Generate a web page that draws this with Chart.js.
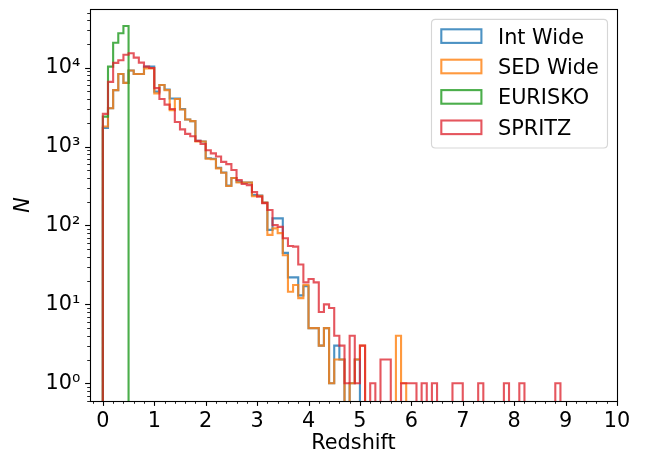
<!DOCTYPE html>
<html>
<head>
<meta charset="utf-8">
<script src="https://cdn.jsdelivr.net/npm/chart.js@4.4.0/dist/chart.umd.min.js"></script>
<style>
  html, body { margin: 0; padding: 0; background: #ffffff; }
  #wrap { width: 651px; height: 460px; }
</style>
</head>
<body>
<div id="wrap"><canvas id="chart" width="651" height="460"></canvas></div>
<script>
// Galaxy counts per redshift bin (bins 0.1 wide, starting at z = 0)
const BIN_START = 0;
const BIN_WIDTH = 0.1;

const intWide = [
  1720, 3060, 5200, 8300, 6420, 9200, 8300, 8300, 10300, 10300,
  4970, 6040, 5300, 4060, 4050, 2980, 2200, 2100, 1180, 1160,
  710, 700, 540, 470, 320, 400, 360, 350, 350, 243,
  240, 195, 88, 123, 123, 45, 22, 22, 13, 17,
  5, 5, 3, 5, 1, 3, 2, 0, 1, 2
];
const sedWide = [
  1800, 3060, 5200, 8300, 6420, 9200, 8300, 8300, 9800, 9800,
  4730, 6040, 5200, 2900, 4000, 2950, 2200, 2100, 1160, 1160,
  700, 690, 530, 467, 317, 400, 350, 350, 350, 235,
  237, 195, 76, 92, 80, 42, 14.5, 17.6, 12, 17.6,
  5, 5, 3, 5, 1, 2, 2, 0, 1, 2,
  3, 0, 0, 0, 0, 0, 0, 4, 1
];
const eurisko = [2400, 10300, 20700, 27300, 33800];
const spritz = [
  2600, 6600, 11500, 12400, 14600, 15200, 13400, 11600, 10300, 9900,
  5500, 4000, 3400, 3000, 2050, 1650, 1450, 1350, 1180, 1080,
  900, 820, 750, 640, 600, 505, 377, 335, 325, 265,
  232, 192, 157, 101, 96, 69, 55, 54, 32, 19,
  21, 19, 8, 10, 9, 4, 3, 1, 4, 1,
  3, 0, 1, 0, 2, 2, 0, 0, 1, 1,
  1, 0, 1, 0, 1, 0, 0, 0, 1, 1,
  0, 0, 0, 1, 0, 0, 0, 0, 1, 0,
  0, 1, 0, 0, 0, 0, 0, 0, 1
];

const seriesNames = ['Int Wide', 'SED Wide', 'EURISKO', 'SPRITZ'];
const seriesCounts = [intWide, sedWide, eurisko, spritz];
const seriesColors = [
  'rgba(31,119,180,0.8)',
  'rgba(255,127,14,0.8)',
  'rgba(44,160,44,0.85)',
  'rgba(220,30,40,0.75)'
];

const xTicks = [0, 1, 2, 3, 4, 5, 6, 7, 8, 9, 10];
const yTicks = [1, 10, 100, 1000, 10000];
const yTickLabels = ['10\u2070', '10\u00B9', '10\u00B2', '10\u00B3', '10\u2074'];

const X_MIN = -0.25, X_MAX = 10;
const Y_MIN = 0.597, Y_MAX = 55400;
const X_MINOR_STEP = 0.2;

// empty bins sit far below the visible range so the outline drops off the axis
const EMPTY = 1e-3;

const FONT = 'DejaVu Sans';
const FS = 20.8;

// histogram outline: one point per left bin edge, stepped so each bin is flat
function stepOutline(counts) {
  const pts = [{ x: BIN_START, y: EMPTY }];
  counts.forEach((c, i) => {
    pts.push({ x: BIN_START + i * BIN_WIDTH, y: c > 0 ? c : EMPTY });
  });
  pts.push({ x: BIN_START + counts.length * BIN_WIDTH, y: EMPTY });
  return pts;
}

const datasets = seriesCounts.map((counts, i) => ({
  label: seriesNames[i],
  data: stepOutline(counts),
  stepped: true,
  borderColor: seriesColors[i],
  backgroundColor: 'rgba(0,0,0,0)',
  borderWidth: 2.1,
  borderJoinStyle: 'miter',
  borderCapStyle: 'butt',
  pointRadius: 0,
  pointHoverRadius: 0,
  fill: false,
  tension: 0,
  clip: 0,
  order: seriesCounts.length - i
}));

// ticks, frame and boxed legend in the usual scientific-plot style
const axesFrame = {
  id: 'axesFrame',
  afterDraw(chart) {
    const { ctx, chartArea: a, scales } = chart;
    const xs = scales.x, ys = scales.y;
    ctx.save();
    ctx.strokeStyle = '#000';
    ctx.lineCap = 'butt';

    const tick = (x1, y1, x2, y2, w) => {
      ctx.lineWidth = w;
      ctx.beginPath();
      ctx.moveTo(x1, y1);
      ctx.lineTo(x2, y2);
      ctx.stroke();
    };

    // x ticks
    for (let k = Math.ceil(X_MIN / X_MINOR_STEP); k <= Math.floor(X_MAX / X_MINOR_STEP + 1e-9); k++) {
      const v = k * X_MINOR_STEP;
      const px = Math.round(xs.getPixelForValue(v)) + 0.5;
      const major = Math.abs(v - Math.round(v)) < 1e-6;
      tick(px, a.bottom, px, a.bottom + (major ? 4.9 : 2.8), major ? 1.1 : 0.85);
    }
    // y ticks (log decades plus 2..9 subdivisions)
    const e0 = Math.floor(Math.log10(Y_MIN)), e1 = Math.ceil(Math.log10(Y_MAX));
    for (let e = e0; e <= e1; e++) {
      for (let m = 1; m <= 9; m++) {
        const v = m * Math.pow(10, e);
        if (v < Y_MIN || v > Y_MAX) continue;
        const py = Math.round(ys.getPixelForValue(v)) + 0.5;
        const major = m === 1;
        tick(a.left, py, a.left - (major ? 4.9 : 2.8), py, major ? 1.1 : 0.85);
      }
    }

    // frame
    ctx.lineWidth = 1.1;
    ctx.strokeRect(a.left + 0.5, a.top + 0.5, a.right - a.left, a.bottom - a.top);

    // legend
    const lx = 431.5, ly = 19.4, lw = 176, lh = 128.6, r = 4;
    ctx.beginPath();
    ctx.moveTo(lx + r, ly);
    ctx.lineTo(lx + lw - r, ly);
    ctx.quadraticCurveTo(lx + lw, ly, lx + lw, ly + r);
    ctx.lineTo(lx + lw, ly + lh - r);
    ctx.quadraticCurveTo(lx + lw, ly + lh, lx + lw - r, ly + lh);
    ctx.lineTo(lx + r, ly + lh);
    ctx.quadraticCurveTo(lx, ly + lh, lx, ly + lh - r);
    ctx.lineTo(lx, ly + r);
    ctx.quadraticCurveTo(lx, ly, lx + r, ly);
    ctx.closePath();
    ctx.fillStyle = 'rgba(255,255,255,0.8)';
    ctx.fill();
    ctx.lineWidth = 1.1;
    ctx.strokeStyle = 'rgba(204,204,204,0.8)';
    ctx.stroke();

    ctx.font = FS + 'px "' + FONT + '"';
    ctx.textAlign = 'left';
    ctx.textBaseline = 'alphabetic';
    const rowPitch = 30.4, firstRow = 36.1;
    seriesNames.forEach((name, i) => {
      const cy = firstRow + i * rowPitch;
      ctx.strokeStyle = seriesColors[i];
      ctx.lineWidth = 2.1;
      ctx.strokeRect(441.3, cy - 6.8, 40.1, 13.6);
      ctx.fillStyle = '#000';
      ctx.fillText(name, 498, cy + 0.729 * FS / 2);
    });
    ctx.restore();
  }
};

Chart.defaults.font.family = FONT;
Chart.defaults.font.size = FS;
Chart.defaults.color = '#000';

new Chart(document.getElementById('chart'), {
  type: 'line',
  data: { datasets },
  options: {
    responsive: false,
    animation: false,
    devicePixelRatio: 1,
    events: [],
    layout: { padding: { left: 0, right: 34, top: 9, bottom: 0 } },
    plugins: {
      legend: { display: false },
      tooltip: { enabled: false }
    },
    scales: {
      x: {
        type: 'linear',
        min: X_MIN,
        max: X_MAX,
        grid: { display: false, drawTicks: false },
        border: { display: false },
        afterBuildTicks: (s) => { s.ticks = xTicks.map(v => ({ value: v })); },
        afterFit: (s) => {
          s.height = 59;
          s.paddingLeft = 0;
          s.paddingRight = 0;
        },
        ticks: {
          autoSkip: false,
          maxRotation: 0,
          padding: 8,
          font: { size: FS },
          callback: (v) => String(v)
        },
        title: {
          display: true,
          text: 'Redshift',
          font: { size: FS },
          padding: { top: 0, bottom: 4 }
        }
      },
      y: {
        type: 'logarithmic',
        min: Y_MIN,
        max: Y_MAX,
        grid: { display: false, drawTicks: false },
        border: { display: false },
        afterBuildTicks: (s) => { s.ticks = yTicks.map(v => ({ value: v, major: true })); },
        afterFit: (s) => {
          s.width = 90;
          s.paddingTop = 0;
          s.paddingBottom = 0;
        },
        ticks: {
          autoSkip: false,
          padding: 9.7,
          font: { size: FS },
          callback: (v, i) => yTickLabels[i]
        },
        title: {
          display: true,
          text: 'N',
          font: { size: FS, style: 'italic' },
          padding: { top: 11, bottom: 0 }
        }
      }
    }
  },
  plugins: [axesFrame]
});
</script>
</body>
</html>
